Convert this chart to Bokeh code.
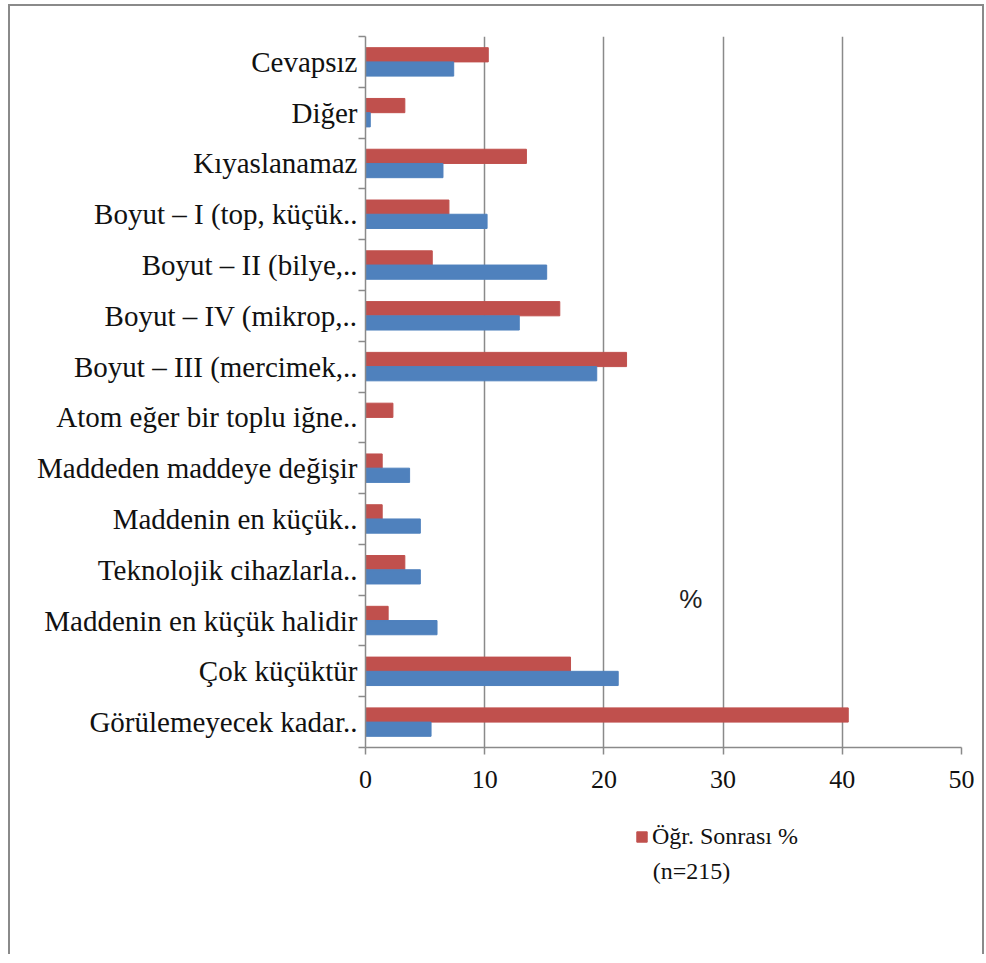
from bokeh.plotting import figure
from bokeh.layouts import column
from bokeh.models import (ColumnDataSource, Range1d, LinearAxis,
                          FixedTicker, Label, Legend, LegendItem,
                          CustomJSTickFormatter)
from bokeh.transform import dodge
from bokeh.embed import file_html
from bokeh.resources import INLINE

# ---- data (top to bottom as shown) ----
categories = [
    "Cevapsız",
    "Diğer",
    "Kıyaslanamaz",
    "Boyut – I (top, küçük..",
    "Boyut – II (bilye,..",
    "Boyut – IV (mikrop,..",
    "Boyut – III (mercimek,..",
    "Atom eğer bir toplu iğne..",
    "Maddeden maddeye değişir",
    "Maddenin en küçük..",
    "Teknolojik cihazlarla..",
    "Maddenin en küçük halidir",
    "Çok küçüktür",
    "Görülemeyecek kadar..",
]
after_pct = [10.3, 3.3, 13.5, 7.0, 5.6, 16.3, 21.9, 2.3, 1.4, 1.4, 3.3, 1.9, 17.2, 40.5]
before_pct = [7.4, 0.4, 6.5, 10.2, 15.2, 12.9, 19.4, 0.0, 3.7, 4.6, 4.6, 6.0, 21.2, 5.5]
x_ticks = [0, 10, 20, 30, 40, 50]
after_label = "Öğr. Sonrası %"
after_label_n = "(n=215)"
axis_title = "%"

RED = "#C0504D"
BLUE = "#4F81BD"
GRAY = "#8a8a8a"
SERIF = "Liberation Serif"
BORDER = "2px solid #8a8a8a"

n = len(categories)
# band centre of each category (first category at the top)
pos = [n - 0.5 - i for i in range(n)]

src = ColumnDataSource(dict(cat=categories, pos=pos, after=after_pct, before=before_pct))

x_range = Range1d(0, 50)

p = figure(width=976, height=800,
           y_range=Range1d(0, n),
           x_range=x_range,
           y_axis_location=None,
           output_backend="svg", toolbar_location=None,
           min_border_left=355, min_border_right=25,
           min_border_top=30, min_border_bottom=59)
p.styles = {"border-left": BORDER, "border-top": BORDER, "border-right": BORDER}
p.outline_line_color = None
p.background_fill_color = "white"
p.border_fill_color = "white"

# bars
r_after = p.hbar(y=dodge("pos", 0.14), right="after", left=0,
                 height=0.28, source=src, fill_color=RED, line_color=RED)
r_before = p.hbar(y=dodge("pos", -0.14), right="before", left=0,
                  height=0.28, source=src, fill_color=BLUE, line_color=BLUE)

# x axis
xa = p.xaxis[0]
xa.ticker = FixedTicker(ticks=x_ticks)
xa.axis_line_color = GRAY
xa.axis_line_width = 1.5
xa.major_tick_line_color = GRAY
xa.major_tick_line_width = 1.5
xa.major_tick_out = 7
xa.major_tick_in = 0
xa.minor_tick_line_color = None
xa.major_label_text_font = SERIF
xa.major_label_text_font_size = "26px"
xa.major_label_text_color = "#111111"
xa.major_label_standoff = 16

p.xgrid.ticker = FixedTicker(ticks=x_ticks)
p.xgrid.grid_line_color = GRAY
p.xgrid.grid_line_width = 1.5
p.ygrid.visible = False

# left axis: tick marks at category boundaries
tick_axis = LinearAxis(ticker=FixedTicker(ticks=list(range(n + 1))),
                       formatter=CustomJSTickFormatter(code="return ''"),
                       major_label_standoff=0,
                       major_tick_out=7, major_tick_in=0,
                       minor_tick_line_color=None,
                       axis_line_color=GRAY, axis_line_width=1.5,
                       major_tick_line_color=GRAY, major_tick_line_width=1.5)
p.add_layout(tick_axis, "left")

# left axis: category labels at band centres
label_axis = LinearAxis(ticker=FixedTicker(ticks=pos),
                        major_label_overrides={v: c for v, c in zip(pos, categories)},
                        axis_line_color=None, major_tick_line_color=None,
                        minor_tick_line_color=None,
                        major_tick_out=0, major_tick_in=0,
                        major_label_standoff=1,
                        major_label_text_font=SERIF,
                        major_label_text_font_size="29px",
                        major_label_text_color="#111111")
p.add_layout(label_axis, "left")

# "%" label inside the plot
p.add_layout(Label(x=27.3, y=2.93, text=axis_title,
                   text_font="Liberation Sans", text_font_size="26px",
                   text_align="center", text_baseline="middle",
                   text_color="#222222"))

# ---- legend strip below the chart (its frame is aligned with the chart's) ----
p2 = figure(width=976, height=150, x_range=x_range, y_range=Range1d(0, 150),
            output_backend="svg", toolbar_location=None,
            x_axis_location=None, y_axis_location=None,
            min_border_left=0, min_border_right=0, min_border_top=0, min_border_bottom=0)
p2.styles = {"border-left": BORDER, "border-right": BORDER}
p2.outline_line_color = None
p2.xgrid.visible = False
p2.ygrid.visible = False
# hidden copy of the red series, only used to draw the legend swatch
r_leg = p2.hbar(y=dodge("pos", 0.14), right="after", left=0, height=0.28,
                source=src, fill_color=RED, line_color=RED, visible=False)

legend = Legend(items=[LegendItem(label=after_label, renderers=[r_leg])],
                location=(270, 104), orientation="vertical",
                padding=0, margin=0, spacing=0,
                border_line_color=None, background_fill_alpha=0,
                glyph_width=13, glyph_height=13, label_standoff=4,
                label_text_font=SERIF, label_text_font_size="24px",
                label_text_color="#111111")
p2.add_layout(legend, "center")
p2.add_layout(Label(x=24.1, y=84, text=after_label_n,
                    text_font=SERIF, text_font_size="24px",
                    text_align="left", text_baseline="middle",
                    text_color="#111111"))

layout = column(p, p2, spacing=0)
layout.styles = {"margin-left": "8px", "margin-top": "4px"}

open("out.html", "w").write(file_html(layout, INLINE))
